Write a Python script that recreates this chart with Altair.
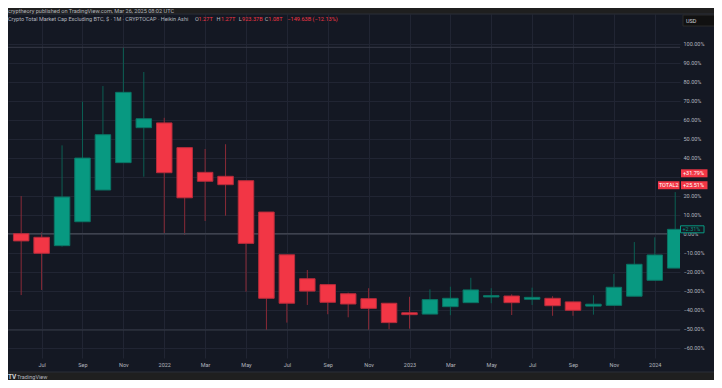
import altair as alt
import pandas as pd

# ---------------- data (percent change, Heikin Ashi monthly candles) ----------------
months = ["2021-06", "2021-07", "2021-08", "2021-09", "2021-10", "2021-11", "2021-12",
          "2022-01", "2022-02", "2022-03", "2022-04", "2022-05", "2022-06", "2022-07",
          "2022-08", "2022-09", "2022-10", "2022-11", "2022-12", "2023-01", "2023-02",
          "2023-03", "2023-04", "2023-05", "2023-06", "2023-07", "2023-08", "2023-09",
          "2023-10", "2023-11", "2023-12", "2024-01", "2024-02"]
opens = [0.0, -1.9, -6.3, 6.3, 23.0, 37.4, 55.8, 58.3, 45.3, 32.3, 30.2, 27.9, 11.4,
         -11.1, -23.7, -26.8, -31.6, -34.2, -36.6, -41.6, -42.3, -38.4, -36.3, -33.3,
         -32.8, -34.5, -34.0, -35.9, -38.1, -37.7, -32.9, -24.5, -18.1]
highs = [19.8, 0.7, 46.5, 69.5, 77.7, 98.1, 85.1, 61.0, 45.3, 44.6, 47.1, 27.9, 11.4,
         -11.1, -19.1, -26.8, -31.0, -28.7, -36.6, -33.2, -29.3, -27.9, -23.2, -28.7,
         -31.9, -28.4, -32.9, -35.9, -32.4, -21.2, -4.4, -1.9, 21.9]
lows = [-32.3, -29.6, -6.8, 6.3, 23.0, 37.4, 30.0, 0.2, -0.7, 6.7, 9.5, -30.5, -50.7,
        -46.8, -37.5, -42.4, -44.0, -50.7, -50.3, -50.0, -42.3, -42.9, -36.3, -36.6,
        -42.8, -37.5, -43.2, -43.2, -42.6, -37.7, -32.9, -24.5, -18.1]
closes = [-3.8, -10.3, 19.3, 39.8, 52.1, 74.4, 60.5, 32.1, 18.9, 27.6, 25.8, -5.1, -34.0,
          -36.6, -30.2, -36.1, -37.0, -39.3, -46.8, -42.6, -34.7, -34.0, -29.6, -32.6,
          -36.3, -33.5, -37.9, -40.3, -37.1, -28.2, -16.1, -11.2, 2.3]

tick_index = [1, 3, 5, 7, 9, 11, 13, 15, 17, 19, 21, 23, 25, 27, 29, 31]
tick_text = ["Jul", "Sep", "Nov", "2022", "Mar", "May", "Jul", "Sep", "Nov", "2023",
             "Mar", "May", "Jul", "Sep", "Nov", "2024"]
y_ticks = [-60, -50, -40, -30, -20, -10, 0, 10, 20, 30, 40, 50, 60, 70, 80, 90, 100]
hidden_y_label = 30  # covered by the +31.79% price tag in the reference

tag_values = [31.79, 25.51]
tag_texts = ["+31.79%", "+25.51%"]
last_value = [2.31]
last_text = ["+2.31%"]

header_text = "cryptheory published on TradingView.com, Mar 26, 2025 08:02 UTC"
legend_title = "Crypto Total Market Cap Excluding BTC, $ · 1M · CRYPTOCAP · Heikin Ashi"
legend_parts = [("O", "g"), ("1.27T", "r"), ("H", "g"), ("1.27T", "r"), ("L", "g"),
                ("923.37B", "r"), ("C", "g"), ("1.08T", "r"), ("−149.63B (−12.13%)", "r")]

# ---------------- styling ----------------
GREEN = "#089981"
RED = "#F23645"
PANEL = "#141823"
OUTER = "#1f1f1f"
GRID = "#212533"
TXT = "#b2b5be"
FONT = "Roboto"

df = pd.DataFrame({"idx": list(range(len(months))), "month": months,
                   "open": opens, "high": highs, "low": lows, "close": closes})

label_arr = [""] * len(months)
for i, t in zip(tick_index, tick_text):
    label_arr[i] = t
label_expr = "[" + ",".join("'" + s + "'" for s in label_arr) + "][datum.value]"

xscale = alt.Scale(domain=[-0.40, 31.99], nice=False, zero=False)
yscale = alt.Scale(domain=[-65.42, 115.63], nice=False, zero=False)

x_axis = alt.Axis(values=tick_index, labelExpr=label_expr, grid=True, gridColor=GRID,
                  gridWidth=1, domain=False, ticks=False, tickSize=0, labelPadding=4,
                  labelFont=FONT, labelFontSize=5.5, labelColor=TXT, labelFlush=False,
                  labelOverlap=False, title=None)
y_axis = alt.Axis(orient="right", values=y_ticks,
                  labelExpr=("datum.value == %d ? '' : format(datum.value, '.2f') + '%%'"
                             % hidden_y_label),
                  grid=True,
                  gridColor=GRID, gridWidth=1, domain=False, ticks=False, tickSize=0,
                  labelPadding=3, labelAlign="left", labelFont=FONT, labelFontSize=5.5,
                  labelColor=TXT, labelOverlap=False, labelBound=False, title=None)


def X(field):
    return alt.X(field, scale=xscale, axis=x_axis)


def Y(field):
    return alt.Y(field, scale=yscale, axis=y_axis)


base = alt.Chart(df)
up = alt.datum.close >= alt.datum.open

wicks = base.mark_rule(strokeWidth=1, clip=True).encode(
    x=X("idx:Q"), y=Y("low:Q"), y2="high:Q",
    color=alt.condition(up, alt.value("#0b5f53"), alt.value("#8a2a37")),
)

bodies = base.mark_bar(size=15.5, strokeWidth=1, clip=True).encode(
    x=X("idx:Q"), y=Y("open:Q"), y2="close:Q",
    fill=alt.condition(up, alt.value(GREEN), alt.value(RED)),
    stroke=alt.condition(up, alt.value("#0a7565"), alt.value("#b72c3b")),
)

hi_line = base.mark_rule(color="#363a46", strokeWidth=1).encode(y=Y("max(high):Q"))
lo_line = base.mark_rule(color="#363a46", strokeWidth=1).encode(y=Y("min(low):Q"))
zero_line = alt.Chart(alt.Data(values=[{"v": 0}])).mark_rule(
    color="#3e424e", strokeWidth=1.5).encode(y=Y("v:Q"))

tags_df = pd.DataFrame({"v": tag_values, "t": tag_texts})
tag_box = alt.Chart(tags_df).mark_rect(fill=RED, yOffset=-4, y2Offset=4).encode(
    x=alt.value(673), x2=alt.value(699.5), y=Y("v:Q"), y2="v:Q")
tag_txt = alt.Chart(tags_df).mark_text(align="left", baseline="middle", font=FONT,
                                       fontSize=5.5, color="white").encode(
    x=alt.value(675), y=Y("v:Q"), text="t:N")
total2_df = pd.DataFrame({"v": [tag_values[1]], "t": ["TOTAL2"]})
total2_box = alt.Chart(total2_df).mark_rect(fill=RED, yOffset=-4, y2Offset=4).encode(
    x=alt.value(650), x2=alt.value(671.5), y=Y("v:Q"), y2="v:Q")
total2_txt = alt.Chart(total2_df).mark_text(align="center", baseline="middle", font=FONT,
                                            fontSize=5.5, color="white").encode(
    x=alt.value(660.7), y=Y("v:Q"), text="t:N")

last_df = pd.DataFrame({"v": last_value, "t": last_text})
last_box = alt.Chart(last_df).mark_rect(fill=PANEL, stroke=GREEN, strokeWidth=1,
                                        yOffset=-3.5, y2Offset=3.5).encode(
    x=alt.value(672.5), x2=alt.value(696), y=Y("v:Q"), y2="v:Q")
last_txt = alt.Chart(last_df).mark_text(align="left", baseline="middle", font=FONT,
                                        fontSize=5.5, color=GREEN).encode(
    x=alt.value(674.5), y=Y("v:Q"), text="t:N")

one = alt.Data(values=[{}])


def deco_rect(x, x2, y, y2, **kw):
    return alt.Chart(one).mark_rect(**kw).encode(
        x=alt.value(x), x2=alt.value(x2), y=alt.value(y), y2=alt.value(y2))


def deco_text(txt, x, y, color=TXT, size=5.5, **kw):
    return alt.Chart(one).mark_text(align="left", baseline="middle", font=FONT,
                                    fontSize=size, color=color, **kw).encode(
        x=alt.value(x), y=alt.value(y), text=alt.value(txt))


# outer frame strips (TradingView snapshot frame)
top_strip = deco_rect(-2, 716, -8, 0, fill=OUTER)
bottom_strip = deco_rect(-2, 716, 358, 380, fill=OUTER)
panel_border = deco_rect(-1, 709, 0, 358, fill="transparent", stroke="#2a2e39",
                         strokeWidth=1)

usd_box = deco_rect(675, 708, 1, 12, fill="#111111", stroke="#2a2a2a", strokeWidth=1)
usd_txt = deco_text("USD", 678, 6.5, color="#d1d4dc")

header = deco_text(header_text, 0, -3, color=TXT, size=5.6)
leg_title = deco_text(legend_title, 0, 5, color=TXT, size=5.5)
leg_x = [187, 190.5, 208.5, 213, 230.7, 234, 256.7, 260.3, 279.3]
leg_layers = [deco_text(t, xx, 5, color=(TXT if c == "g" else RED), size=5.6)
              for (t, c), xx in zip(legend_parts, leg_x)]

logo = deco_text("TV", 0, 363, color="#d1d4dc", size=6.5, fontWeight="bold")
logo_txt = deco_text("TradingView", 9, 363, color=TXT, size=5.5)

chart = alt.layer(
    wicks, hi_line, lo_line, zero_line, bodies,
    total2_box, total2_txt, tag_box, tag_txt, last_box, last_txt,
    top_strip, bottom_strip, panel_border,
    usd_box, usd_txt, header, leg_title, *leg_layers, logo, logo_txt,
).properties(
    width=672, height=344,
    autosize=alt.AutoSizeParams(type="none"),
    padding={"left": 0, "top": 6, "right": 34, "bottom": 22},
    background=PANEL,
).configure_view(stroke=None)

chart.save("out.html", embed_options={"renderer": "svg", "actions": False})
